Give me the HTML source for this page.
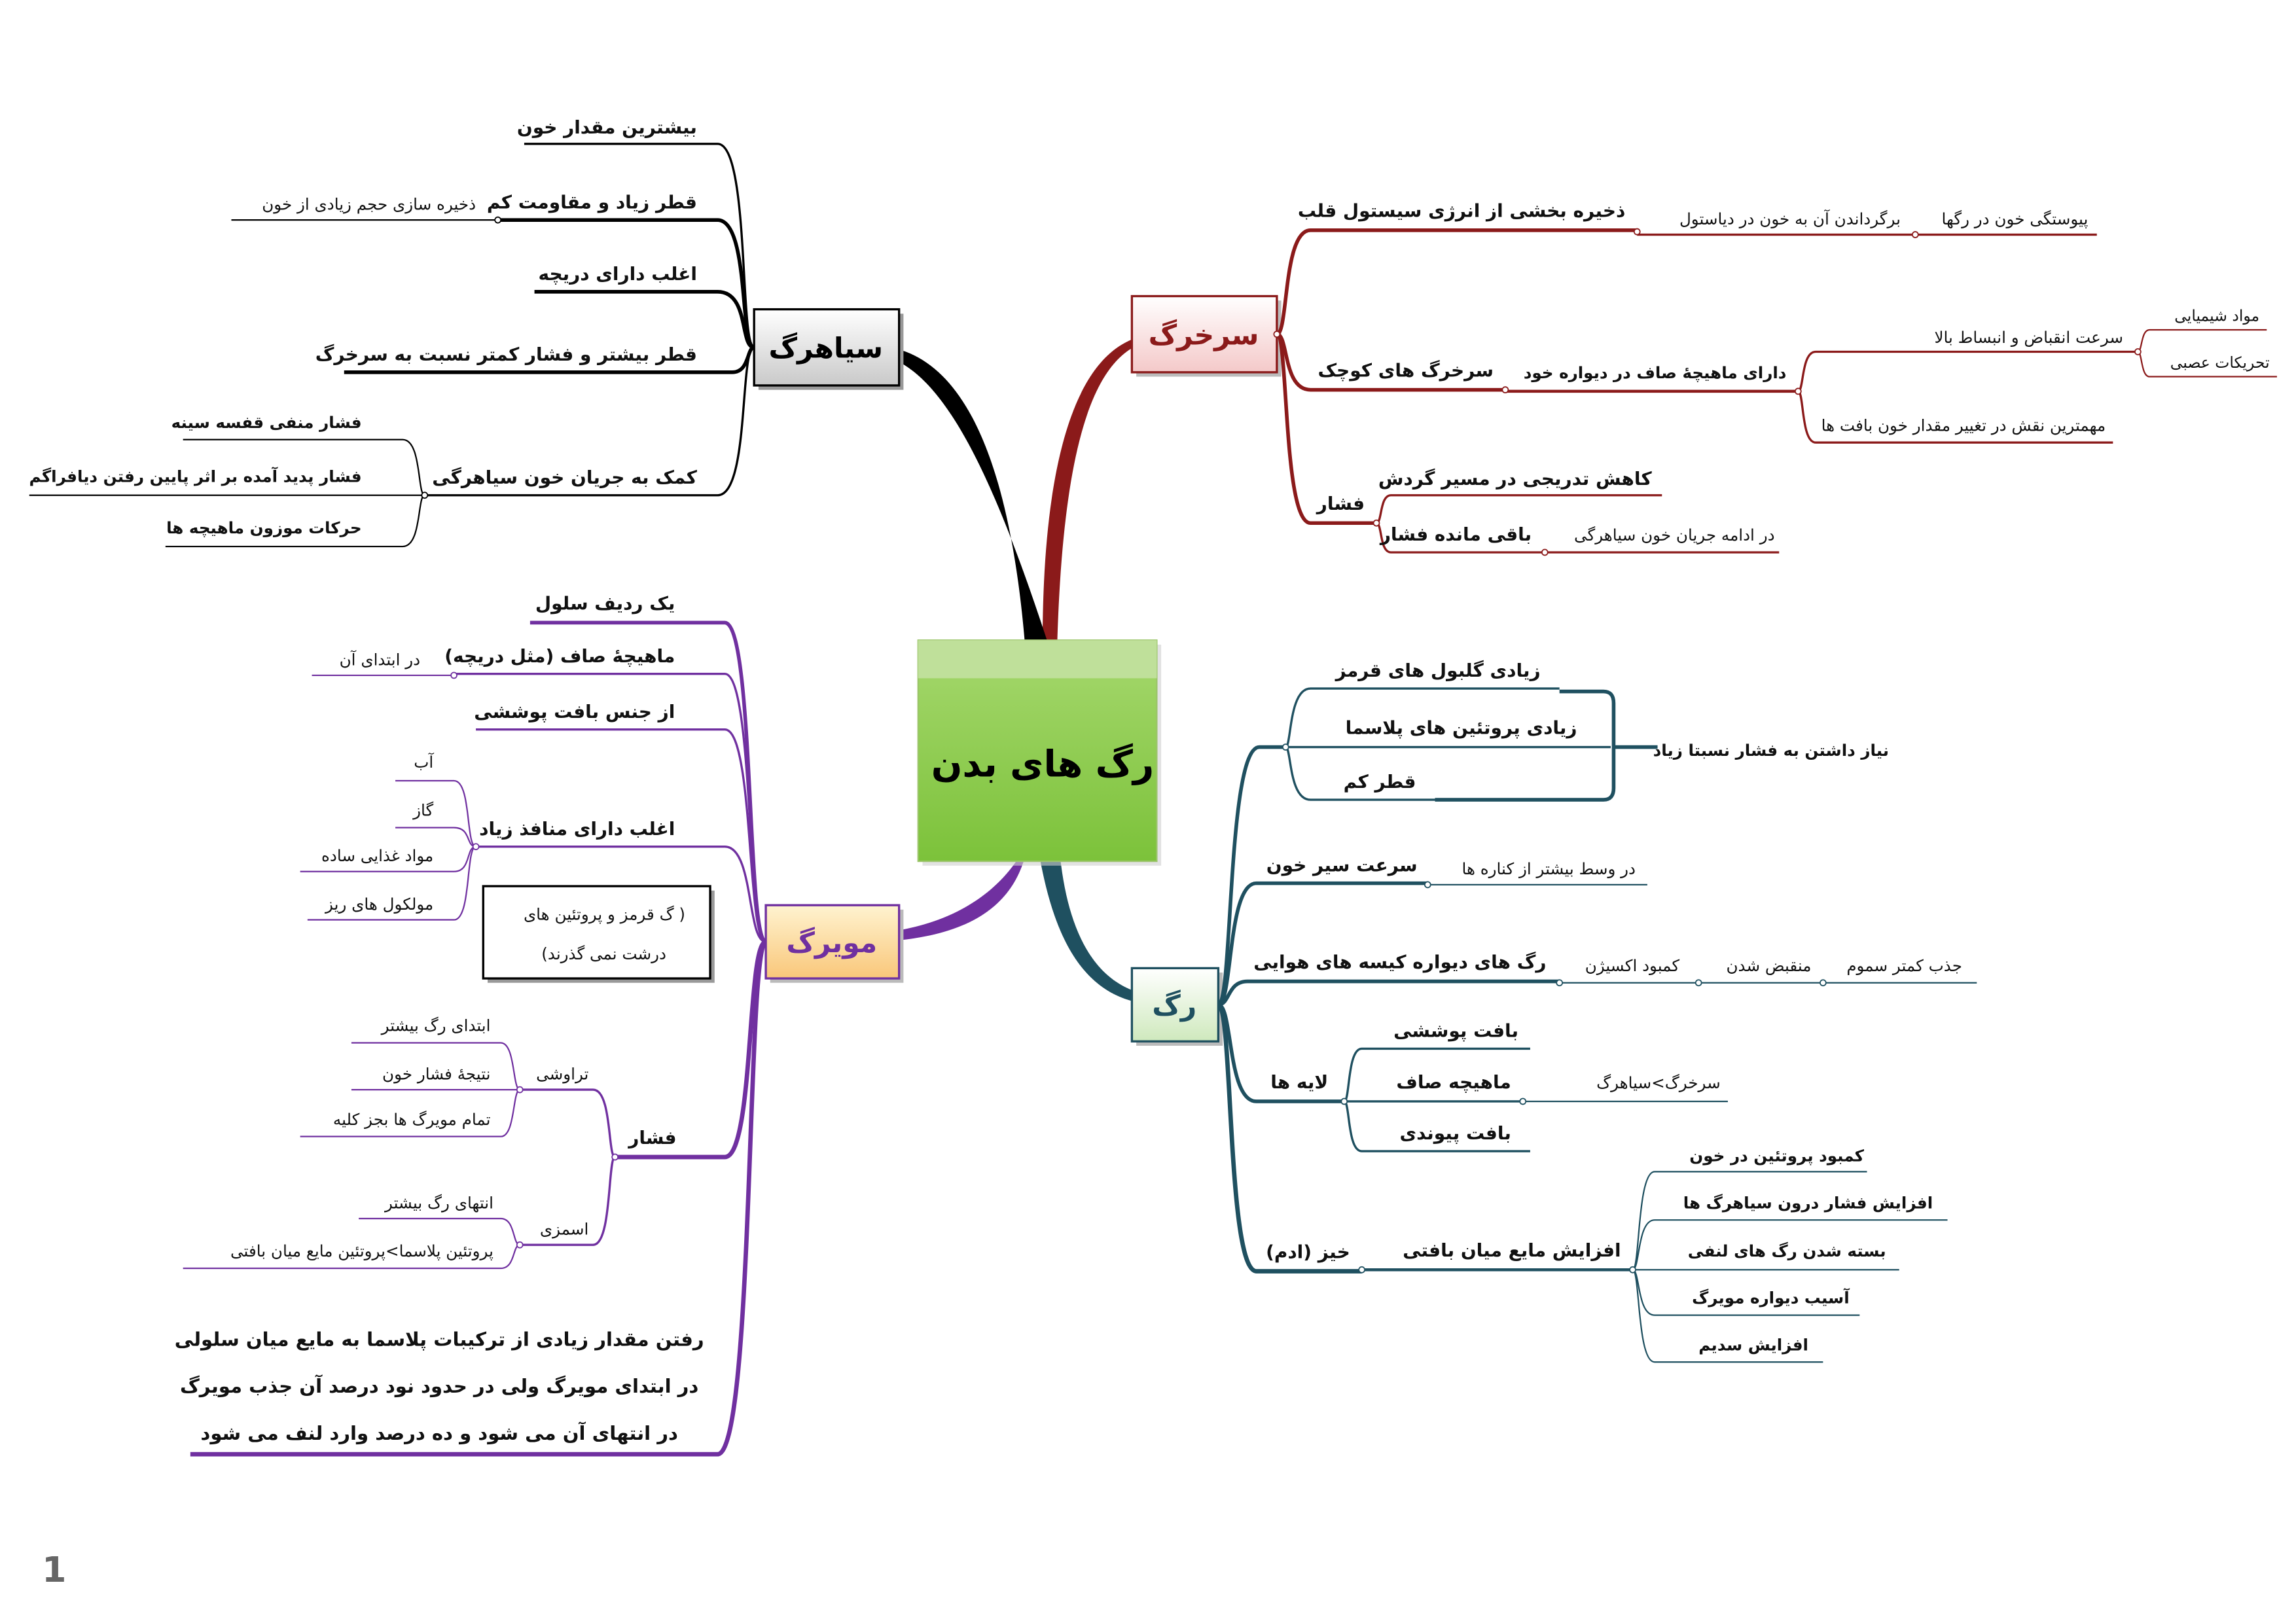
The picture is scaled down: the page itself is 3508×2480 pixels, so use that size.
<!DOCTYPE html>
<html><head><meta charset="utf-8">
<style>
html,body{margin:0;padding:0;background:#fff;}
svg{display:block;}
text{font-family:"DejaVu Sans",sans-serif;}
.m{font-size:12.5px;font-weight:bold;fill:#111;}
.s{font-size:11px;fill:#111;}
.b{font-size:19px;font-weight:bold;}
</style></head>
<body>
<svg width="3508" height="2480" viewBox="0 0 1568 1108" xmlns="http://www.w3.org/2000/svg">
<defs>
<linearGradient id="gc" x1="0" y1="0" x2="0" y2="1"><stop offset="0" stop-color="#a6d86e"/><stop offset="1" stop-color="#7cc23a"/></linearGradient>
<linearGradient id="gs" x1="0" y1="0" x2="0" y2="1"><stop offset="0" stop-color="#ffffff"/><stop offset="1" stop-color="#f4c9c9"/></linearGradient>
<linearGradient id="gg" x1="0" y1="0" x2="0" y2="1"><stop offset="0" stop-color="#ffffff"/><stop offset="1" stop-color="#c9c9c9"/></linearGradient>
<linearGradient id="go" x1="0" y1="0" x2="0" y2="1"><stop offset="0" stop-color="#fff3d0"/><stop offset="1" stop-color="#f9c77a"/></linearGradient>
<linearGradient id="gr" x1="0" y1="0" x2="0" y2="1"><stop offset="0" stop-color="#ffffff"/><stop offset="1" stop-color="#cfe9bd"/></linearGradient>
</defs>

<path d="M712,440 C712,300 740,230 790,228 L790,232 C748,236 726,300 722,440 Z" fill="#8b1a1a"/>
<path d="M700,440 C690,320 660,240 600,236 L600,242 C645,250 680,330 716,440 Z" fill="#000"/>
<path d="M700,585 C690,620 660,640 600,643 L600,637 C650,632 680,610 696,585 Z" fill="#7030a0"/>
<path d="M710,585 C720,640 740,684 790,686 L790,680 C750,676 730,640 724,585 Z" fill="#1f5060"/>

<rect x="630" y="440" width="163" height="151" fill="#cfcfcf" opacity="0.6"/>
<rect x="627" y="437" width="163" height="151" fill="url(#gc)" stroke="#9bc46a"/>
<rect x="627" y="437" width="163" height="26" fill="#bfe09a"/>
<text x="712" y="530" text-anchor="middle" style="font-size:25px;font-weight:bold;fill:#000">رگ های بدن</text>

<rect x="776" y="205" width="99" height="52" fill="#bbb"/>
<rect x="773" y="202" width="99" height="52" fill="url(#gs)" stroke="#8b1a1a" stroke-width="1.5"/>
<text class="b" x="822" y="235" text-anchor="middle" fill="#8b1a1a">سرخرگ</text>
<rect x="518" y="214" width="99" height="52" fill="#999"/>
<rect x="515" y="211" width="99" height="52" fill="url(#gg)" stroke="#000" stroke-width="1.5"/>
<text class="b" x="564" y="244" text-anchor="middle" fill="#000">سیاهرگ</text>
<rect x="526" y="621" width="91" height="50" fill="#bbb"/>
<rect x="523" y="618" width="91" height="50" fill="url(#go)" stroke="#7030a0" stroke-width="1.5"/>
<text class="b" x="568" y="650" text-anchor="middle" fill="#7030a0">مویرگ</text>
<rect x="776" y="664" width="59" height="50" fill="#bbb"/>
<rect x="773" y="661" width="59" height="50" fill="url(#gr)" stroke="#1f5060" stroke-width="1.5"/>
<text class="b" x="802" y="693" text-anchor="middle" fill="#1f5060">رگ</text>

<g fill="none" stroke="#8b1a1a">
<path d="M872,228 C880,228 876,157 895,157 L1118,157" stroke-width="2.5"/>
<path d="M1118,160 L1432,160" stroke-width="1.5"/>
<path d="M872,228 C880,228 876,266 895,266 L1028,266" stroke-width="2.5"/>
<path d="M1028,267 L1228,267" stroke-width="2"/>
<path d="M1228,267 C1232,267 1230,240 1240,240 L1460,240 M1228,267 C1232,267 1230,302 1240,302 L1443,302" stroke-width="1.5"/>
<path d="M1460,240 C1463,240 1462,225 1468,225 L1548,225 M1460,240 C1463,240 1462,257 1468,257 L1555,257" stroke-width="1"/>
<path d="M872,228 C880,228 876,357 895,357 L940,357" stroke-width="2.5"/>
<path d="M940,357 C944,357 942,338 950,338 L1135,338 M940,357 C944,357 942,377 950,377 L1215,377" stroke-width="1.5"/>
</g>
<g fill="#fff" stroke="#8b1a1a" stroke-width="0.8"><circle cx="1118" cy="158" r="2"/><circle cx="1308" cy="160" r="2"/><circle cx="1028" cy="266" r="2"/><circle cx="1228" cy="267" r="2"/><circle cx="1460" cy="240" r="2"/><circle cx="940" cy="357" r="2"/><circle cx="1055" cy="377" r="2"/><circle cx="872" cy="228" r="2"/></g>
<text class="m" x="1110" y="148" text-anchor="end">ذخیره بخشی از انرژی سیستول قلب</text>
<text class="s" x="1298" y="153" text-anchor="end">برگرداندن آن به خون در دیاستول</text>
<text class="s" x="1426" y="153" text-anchor="end">پیوستگی خون در رگها</text>
<text class="m" x="1020" y="257" text-anchor="end">سرخرگ های کوچک</text>
<text class="s" x="1220" y="258" text-anchor="end" style="font-weight:bold">دارای ماهیچهٔ صاف در دیواره خود</text>
<text class="s" x="1450" y="234" text-anchor="end" letter-spacing="3">سرعت انقباض و انبساط بالا</text>
<text class="s" x="1438" y="294" text-anchor="end">مهمترین نقش در تغییر مقدار خون بافت ها</text>
<text class="s" x="1543" y="219" text-anchor="end" style="font-size:10.5px">مواد شیمیایی</text>
<text class="s" x="1550" y="251" text-anchor="end" style="font-size:10.5px">تحریکات عصبی</text>
<text class="m" x="932" y="348" text-anchor="end">فشار</text>
<text class="m" x="1128" y="331" text-anchor="end">کاهش تدریجی در مسیر گردش</text>
<text class="m" x="1046" y="369" text-anchor="end">باقی مانده فشار</text>
<text class="s" x="1212" y="369" text-anchor="end">در ادامه جریان خون سیاهرگی</text>

<g fill="none" stroke="#000">
<path d="M515,237 C505,237 512,98 490,98 L358,98" stroke-width="1.5"/>
<path d="M515,237 C505,237 512,150 490,150 L340,150" stroke-width="2.5"/>
<path d="M340,150 L158,150" stroke-width="1"/>
<path d="M515,237 C505,237 512,199 490,199 L365,199" stroke-width="2.5"/>
<path d="M515,237 C510,237 512,254 500,254 L235,254" stroke-width="2.5"/>
<path d="M515,237 C505,237 512,338 490,338 L290,338" stroke-width="1.5"/>
<path d="M290,338 C285,338 288,300 275,300 L125,300 M290,338 L20,338 M290,338 C285,338 288,373 275,373 L113,373" stroke-width="1"/>
</g>
<g fill="#fff" stroke="#000" stroke-width="0.8"><circle cx="340" cy="150" r="2"/><circle cx="290" cy="338" r="2"/></g>
<text class="m" x="476" y="91" text-anchor="end">بیشترین مقدار خون</text>
<text class="m" x="476" y="142" text-anchor="end">قطر زیاد و مقاومت کم</text>
<text class="s" x="325" y="143" text-anchor="end">ذخیره سازی حجم زیادی از خون</text>
<text class="m" x="476" y="191" text-anchor="end">اغلب دارای دریچه</text>
<text class="m" x="476" y="246" text-anchor="end">قطر بیشتر و فشار کمتر نسبت به سرخرگ</text>
<text class="m" x="476" y="330" text-anchor="end">کمک به جریان خون سیاهرگی</text>
<text class="s" x="247" y="292" text-anchor="end" style="font-weight:bold">فشار منفی قفسه سینه</text>
<text class="s" x="247" y="329" text-anchor="end" style="font-weight:bold">فشار پدید آمده بر اثر پایین رفتن دیافراگم</text>
<text class="s" x="247" y="364" text-anchor="end" style="font-weight:bold">حرکات موزون ماهیچه ها</text>

<g fill="none" stroke="#7030a0">
<path d="M523,643 C510,643 515,425 495,425 L362,425" stroke-width="2.5"/>
<path d="M523,643 C510,643 515,460 495,460 L310,460" stroke-width="1.5"/>
<path d="M310,461 L213,461" stroke-width="1"/>
<path d="M523,643 C510,643 515,498 495,498 L325,498" stroke-width="1.5"/>
<path d="M523,643 C510,643 515,578 495,578 L325,578" stroke-width="1.5"/>
<path d="M325,578 C318,578 322,533 310,533 L270,533 M325,578 C318,578 322,565 310,565 L270,565 M325,578 C318,578 322,595 310,595 L205,595 M325,578 C318,578 322,628 310,628 L210,628" stroke-width="1"/>
<path d="M523,643 C510,643 515,790 495,790 L420,790" stroke-width="3"/>
<path d="M420,790 C415,790 418,744 405,744 L355,744 M420,790 C415,790 418,850 405,850 L355,850" stroke-width="1.5"/>
<path d="M355,744 C350,744 352,712 342,712 L240,712 M355,744 L240,744 M355,744 C350,744 352,776 342,776 L205,776" stroke-width="1"/>
<path d="M355,850 C350,850 352,832 342,832 L245,832 M355,850 C350,850 352,866 342,866 L125,866" stroke-width="1"/>
<path d="M523,643 C510,643 515,993 490,993 L130,993" stroke-width="3"/>
</g>
<g fill="#fff" stroke="#7030a0" stroke-width="0.8"><circle cx="310" cy="461" r="2"/><circle cx="325" cy="578" r="2"/><circle cx="420" cy="790" r="2"/><circle cx="355" cy="744" r="2"/><circle cx="355" cy="850" r="2"/></g>
<text class="m" x="461" y="416" text-anchor="end">یک ردیف سلول</text>
<text class="m" x="461" y="452" text-anchor="end">ماهیچهٔ صاف (مثل دریچه)</text>
<text class="s" x="287" y="454" text-anchor="end">در ابتدای آن</text>
<text class="m" x="461" y="490" text-anchor="end">از جنس بافت پوششی</text>
<text class="m" x="461" y="570" text-anchor="end">اغلب دارای منافذ زیاد</text>
<text class="s" x="296" y="524" text-anchor="end">آب</text>
<text class="s" x="296" y="557" text-anchor="end">گاز</text>
<text class="s" x="296" y="588" text-anchor="end">مواد غذایی ساده</text>
<text class="s" x="296" y="621" text-anchor="end">مولکول های ریز</text>
<rect x="333" y="608" width="155" height="63" fill="#999"/>
<rect x="330" y="605" width="155" height="63" fill="#fff" stroke="#000" stroke-width="1.5"/>
<text class="s" x="468" y="628" text-anchor="end">گ قرمز و پروتئین های )</text>
<text class="s" x="455" y="655" text-anchor="end">(درشت نمی گذرند</text>
<text class="m" x="462" y="781" text-anchor="end">فشار</text>
<text class="s" x="402" y="737" text-anchor="end">تراوشی</text>
<text class="s" x="402" y="843" text-anchor="end">اسمزی</text>
<text class="s" x="335" y="704" text-anchor="end">ابتدای رگ بیشتر</text>
<text class="s" x="335" y="737" text-anchor="end">نتیجهٔ فشار خون</text>
<text class="s" x="335" y="768" text-anchor="end">تمام مویرگ ها بجز کلیه</text>
<text class="s" x="337" y="825" text-anchor="end">انتهای رگ بیشتر</text>
<text class="s" x="337" y="858" text-anchor="end">پروتئین پلاسما&gt;پروتئین مایع میان بافتی</text>
<text class="m" x="300" y="919" text-anchor="middle" style="font-size:13px">رفتن مقدار زیادی از ترکیبات پلاسما به مایع میان سلولی</text>
<text class="m" x="300" y="951" text-anchor="middle" style="font-size:13px">در ابتدای مویرگ ولی در حدود نود درصد آن جذب مویرگ</text>
<text class="m" x="300" y="983" text-anchor="middle" style="font-size:13px">در انتهای آن می شود و ده درصد وارد لنف می شود</text>

<g fill="none" stroke="#1f5060">
<path d="M832,686 C842,686 838,510 860,510 L878,510" stroke-width="2.5"/>
<path d="M878,510 C882,510 880,470 895,470 L1065,470 M878,510 L1100,510 M878,510 C882,510 880,546 895,546 L980,546" stroke-width="1.5"/>
<path d="M1065,472 L1095,472 Q1102,472 1102,480 L1102,538 Q1102,546 1095,546 L980,546 M1102,510 L1132,510" stroke-width="2.5"/>
<path d="M832,686 C842,686 838,603 858,603 L975,603" stroke-width="2.5"/>
<path d="M975,604 L1125,604" stroke-width="1"/>
<path d="M832,686 C840,686 838,670 852,670 L1065,670" stroke-width="2.5"/>
<path d="M1065,671 L1350,671" stroke-width="1"/>
<path d="M832,686 C842,686 838,752 858,752 L918,752" stroke-width="2.5"/>
<path d="M918,752 C922,752 920,716 930,716 L1045,716 M918,752 L1040,752 M918,752 C922,752 920,786 930,786 L1045,786" stroke-width="1.5"/>
<path d="M1040,752 L1180,752" stroke-width="1"/>
<path d="M832,686 C842,686 838,868 858,868 L930,868" stroke-width="3"/>
<path d="M930,867 L1115,867" stroke-width="2"/>
<path d="M1115,867 C1120,867 1118,800 1130,800 L1275,800 M1115,867 C1120,867 1118,833 1130,833 L1330,833 M1115,867 L1297,867 M1115,867 C1120,867 1118,898 1130,898 L1270,898 M1115,867 C1120,867 1118,930 1130,930 L1245,930" stroke-width="1"/>
</g>
<g fill="#fff" stroke="#1f5060" stroke-width="0.8"><circle cx="878" cy="510" r="2"/><circle cx="975" cy="604" r="2"/><circle cx="1065" cy="671" r="2"/><circle cx="1160" cy="671" r="2"/><circle cx="1245" cy="671" r="2"/><circle cx="918" cy="752" r="2"/><circle cx="1040" cy="752" r="2"/><circle cx="930" cy="867" r="2"/><circle cx="1115" cy="867" r="2"/></g>
<text class="m" x="1052" y="462" text-anchor="end">زیادی گلبول های قرمز</text>
<text class="m" x="1077" y="501" text-anchor="end">زیادی پروتئین های پلاسما</text>
<text class="m" x="967" y="538" text-anchor="end">قطر کم</text>
<text class="s" x="1290" y="516" text-anchor="end" style="font-weight:bold">نیاز داشتن به فشار نسبتا زیاد</text>
<text class="m" x="968" y="595" text-anchor="end">سرعت سیر خون</text>
<text class="s" x="1117" y="597" text-anchor="end">در وسط بیشتر از کناره ها</text>
<text class="m" x="1056" y="661" text-anchor="end">رگ های دیواره کیسه های هوایی</text>
<text class="s" x="1147" y="663" text-anchor="end">کمبود اکسیژن</text>
<text class="s" x="1237" y="663" text-anchor="end">منقبض شدن</text>
<text class="s" x="1340" y="663" text-anchor="end">جذب کمتر سموم</text>
<text class="m" x="907" y="743" text-anchor="end">لایه ها</text>
<text class="m" x="1037" y="708" text-anchor="end">بافت پوششی</text>
<text class="m" x="1032" y="743" text-anchor="end">ماهیچه صاف</text>
<text class="s" x="1175" y="743" text-anchor="end">سرخرگ&gt;سیاهرگ</text>
<text class="m" x="1032" y="778" text-anchor="end">بافت پیوندی</text>
<text class="m" x="922" y="859" text-anchor="end">خیز (ادم)</text>
<text class="m" x="1107" y="858" text-anchor="end">افزایش مایع میان بافتی</text>
<text class="s" x="1273" y="793" text-anchor="end" style="font-weight:bold">کمبود پروتئین در خون</text>
<text class="s" x="1320" y="825" text-anchor="end" style="font-weight:bold">افزایش فشار درون سیاهرگ ها</text>
<text class="s" x="1288" y="858" text-anchor="end" style="font-weight:bold">بسته شدن رگ های لنفی</text>
<text class="s" x="1263" y="890" text-anchor="end" style="font-weight:bold">آسیب دیواره مویرگ</text>
<text class="s" x="1235" y="922" text-anchor="end" style="font-weight:bold">افزایش سدیم</text>

<text x="37" y="1080" text-anchor="middle" style="font-size:24px;font-weight:bold;fill:#666">1</text>
</svg>
</body></html>
